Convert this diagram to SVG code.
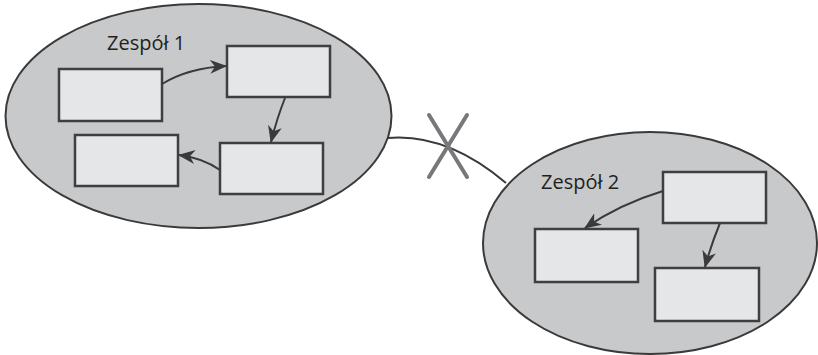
<svg xmlns="http://www.w3.org/2000/svg" width="818" height="355" viewBox="0 0 818 355">
<style>
.team{fill:#c8c9cb;stroke:#3a3a3a;stroke-width:2}
.box{fill:#e5e6e8;stroke:#3f3f3f;stroke-width:2.5}
.lbl{font-family:"Open Sans","Liberation Sans",sans-serif;font-size:20px;fill:#231f20}
.arr{fill:none;stroke:#3a3a3a;stroke-width:2;marker-end:url(#ah)}
.link{fill:none;stroke:#3a3a3a;stroke-width:2}
.x{stroke:#77787b;stroke-width:4;stroke-linecap:round}
</style>
<defs>
<marker id="ah" markerUnits="userSpaceOnUse" markerWidth="17" markerHeight="14" refX="16" refY="7" orient="auto" viewBox="0 0 17 14">
<path d="M0,0 L17,7 L0,14 L5,7 z" fill="#3a3a3a"/>
</marker>
</defs>
<g id="connectors-link">
<path class="link" d="M388,138 Q447,133 506,183"/>
<g id="cross">
<line class="x" x1="429" y1="115" x2="467" y2="177"/>
<line class="x" x1="467" y1="115" x2="429" y2="177"/>
</g>
</g>
<g id="team1">
<ellipse class="team" cx="198.5" cy="116" rx="193" ry="112"/>
<text class="lbl" x="107" y="50" font-size="21">Zespół 1</text>
</g>
<g id="team2">
<ellipse class="team" cx="650" cy="243" rx="167" ry="111"/>
<text class="lbl" x="541" y="189" font-size="21">Zespół 2</text>
</g>
<g id="t1a"><rect class="box" x="59" y="69" width="103" height="52"/></g>
<g id="t1b"><rect class="box" x="227" y="46" width="103" height="51"/></g>
<g id="t1c"><rect class="box" x="220" y="143" width="103" height="51"/></g>
<g id="t1d"><rect class="box" x="75" y="135" width="103" height="51"/></g>
<g id="t2e"><rect class="box" x="663" y="172" width="103" height="51"/></g>
<g id="t2f"><rect class="box" x="535" y="229" width="103" height="53"/></g>
<g id="t2g"><rect class="box" x="655" y="268" width="104" height="53"/></g>
<g id="connectors">
<path class="arr" d="M162,84 Q188,68 226,66"/>
<path class="arr" d="M285,98 Q277,118 271,142"/>
<path class="arr" d="M220,170 Q203,158 179,155"/>
<path class="arr" d="M663,191 Q620,204 585,228"/>
<path class="arr" d="M720,223 Q711,245 705,267"/>
</g>
</svg>
